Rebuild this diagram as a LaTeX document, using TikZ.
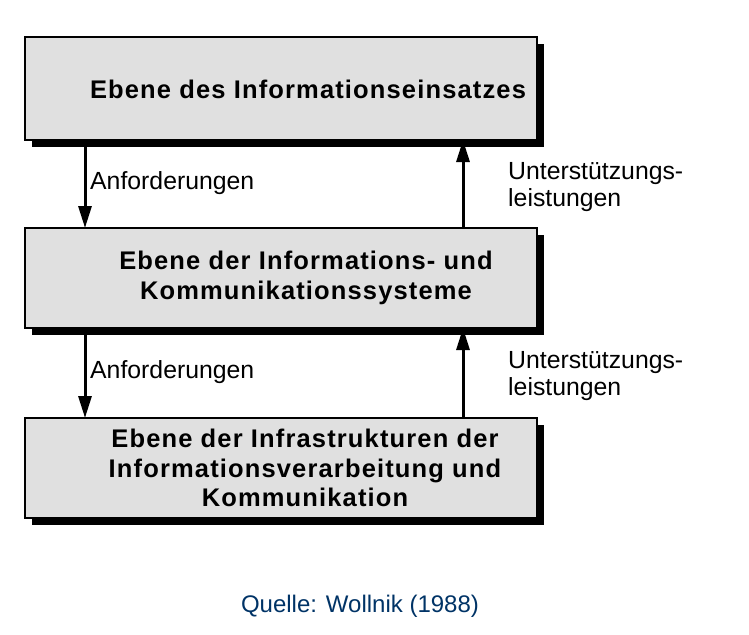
\documentclass[tikz,border=0pt]{standalone}
\usepackage{fontspec}
\setmainfont{Liberation Sans}
\newfontfamily\levelfont{Liberation Sans}[LetterSpace=4.5]
\usepackage{tikz}
\usetikzlibrary{positioning, calc, arrows.meta, shadows}
\definecolor{levelgray}{RGB}{224,224,224}
\definecolor{sourceblue}{RGB}{0,51,102}
\tikzset{level/.style={draw=black, line width=2pt, fill=levelgray, minimum width=512pt, outer sep=0pt,
    drop shadow={shadow xshift=7pt, shadow yshift=-7pt, fill=black, opacity=1}}}
\tikzset{leveltext/.style={align=center, inner sep=0pt, font=\levelfont\bfseries\fontsize{25.5}{29.5}\selectfont}}
\tikzset{flow/.style={line width=3pt, -{Triangle[length=22pt,width=13pt]}}}
\tikzset{flowtext/.style={align=left, inner sep=0pt, font=\fontsize{24.8}{27.5}\selectfont}}

\begin{document}
\begin{tikzpicture}

      \useasboundingbox (0,0) rectangle (749pt,-634pt);

      % LEVELS

      \node[level, minimum height=103pt] (lvl0) at (281pt,-88.5pt) {};
      \node[level, minimum height=100pt, anchor=north] (lvl1) at ($(lvl0.south)-(0,88pt)$) {};
      \node[level, minimum height=100pt, anchor=north] (lvl2) at ($(lvl1.south)-(0,90pt)$) {};

      % LEVEL TEXTS

      \node[leveltext] (lvl0Text) at ($(lvl0.center)+(27pt,-1pt)$) {Ebene des Informationseinsatzes};
      \node[leveltext] (lvl1Text) at ($(lvl1.center)+(25pt,0)$) {Ebene der Informations- und\\Kommunikationssysteme};
      \node[leveltext] (lvl2Text) at ($(lvl2.center)+(24pt,0)$) {Ebene der Infrastrukturen der\\Informationsverarbeitung und\\Kommunikation};

      % ARROWS

      \draw[flow] ([xshift=60pt]lvl0.south west) -- ([xshift=60pt]lvl1.north west);
      \draw[flow] ([xshift=438pt]lvl1.north west) -- ([xshift=438pt]lvl0.south west);
      \draw[flow] ([xshift=60pt]lvl1.south west) -- ([xshift=60pt]lvl2.north west);
      \draw[flow] ([xshift=438pt]lvl2.north west) -- ([xshift=438pt]lvl1.south west);

      % ARROW LABELS

      \node[flowtext, anchor=west] (req0) at ($([xshift=65pt]lvl0.south west)!0.5!([xshift=65pt]lvl1.north west)+(0,1pt)$) {Anforderungen};
      \node[flowtext, anchor=west] (req1) at ($([xshift=65pt]lvl1.south west)!0.5!([xshift=65pt]lvl2.north west)+(0,1pt)$) {Anforderungen};
      \node[flowtext, anchor=west] (sup0) at ($([xshift=483pt]lvl0.south west)!0.5!([xshift=483pt]lvl1.north west)+(0,-3pt)$) {Unterstützungs-\\leistungen};
      \node[flowtext, anchor=west] (sup1) at ($([xshift=483pt]lvl1.south west)!0.5!([xshift=483pt]lvl2.north west)+(0,-3pt)$) {Unterstützungs-\\leistungen};

      % SOURCE

      \node[text=sourceblue, inner sep=0pt, font=\fontsize{24}{28}\selectfont] (source) at ($(lvl2.south)+(79pt,-88pt)$) {Quelle: Wollnik (1988)};
\end{tikzpicture}
\end{document}
